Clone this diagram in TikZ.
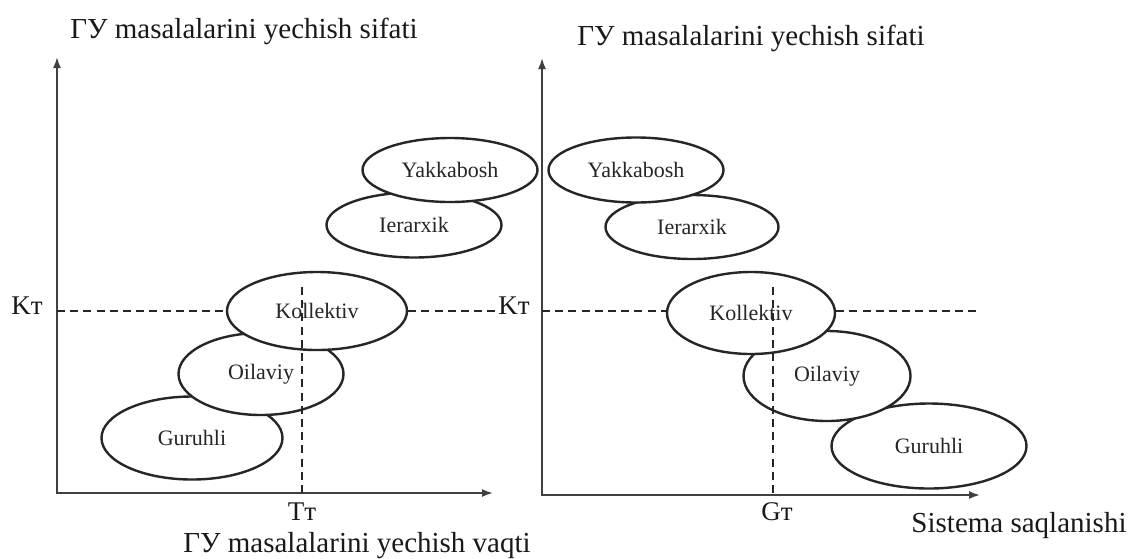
\documentclass[tikz,border=0pt]{standalone}
\usepackage{fontspec}
\setmainfont{Liberation Serif}
\usetikzlibrary{shapes.geometric,arrows.meta}
\begin{document}
\begin{tikzpicture}[x=0.5pt,y=-0.5pt,
  oval/.style={ellipse,draw=black!85,line width=1.2pt,fill=white,inner sep=0pt,
    text=black!85,font=\fontsize{11}{13}\selectfont},
  axis/.style={line width=0.9pt,draw=black!75,{Latex[length=5.5pt,width=4pt]}-{Latex[length=5.5pt,width=4pt]}},
  guide/.style={line width=1pt,draw=black!85,dash pattern=on 4pt off 2.6pt},
  lbl/.style={anchor=base,inner sep=0pt,text=black!90,font=\fontsize{14.5}{17}\selectfont},
  ticklbl/.style={anchor=base,inner sep=0pt,text=black!90,font=\fontsize{13.5}{16}\selectfont}]
\useasboundingbox (0,0) rectangle (1129,558);
\fill[white] (0,0) rectangle (1129,558);

% ---------- left chart: quality vs. time ----------
\coordinate (lO) at (57,493);
\coordinate (lYtip) at (57,57);
\coordinate (lXtip) at (493,493);
\draw[axis] (lYtip) -- (lO) -- (lXtip);

\node[lbl] (lTitle) at (244,38) {ГУ masalalarini yechish sifati};
\node[lbl] (lXtitle) at (357,552) {ГУ masalalarini yechish vaqti};

\node[oval,minimum width=87.5pt,minimum height=32.5pt] (lI) at (414,225) {Ierarxik};
\node[oval,minimum width=87.5pt,minimum height=32pt] (lY) at (450,170) {Yakkabosh};
\node[oval,minimum width=90.5pt,minimum height=41.5pt] (lG) at (192,438) {Guruhli};
\node[oval,minimum width=82.5pt,minimum height=41pt] (lOi) at (261,374) {Oilaviy};
\node[oval,minimum width=90pt,minimum height=39pt] (lK) at (317,311) {Kollektiv};

\node[ticklbl] (lKlab) at (27,314) {Kт};
\node[ticklbl] (rKlab) at (514,314) {Kт};
\node[ticklbl] (lTlab) at (302,520) {Tт};

\coordinate (lKax) at (57,311);
\coordinate (lTtop) at (302,287);
\coordinate (lTax) at (302,493);
\draw[guide] (lKax) -- (lK.west);
\draw[guide] (lK.east) -- (lK.east -| rKlab.west);
\draw[guide] (lTtop) -- (lTax);

% ---------- right chart: quality vs. system preservation ----------
\coordinate (rO) at (542,495);
\coordinate (rYtip) at (542,58);
\coordinate (rXtip) at (980,495);
\draw[axis] (rYtip) -- (rO) -- (rXtip);

\node[lbl] (rTitle) at (751,45) {ГУ masalalarini yechish sifati};
\node[lbl] (rXtitle) at (1019,532) {Sistema saqlanishi};

\node[oval,minimum width=86.5pt,minimum height=32pt] (rI) at (692,227) {Ierarxik};
\node[oval,minimum width=87.5pt,minimum height=32.5pt] (rY) at (636,170) {Yakkabosh};
\node[oval,minimum width=97.5pt,minimum height=42.5pt] (rG) at (929,446) {Guruhli};
\node[oval,minimum width=83.5pt,minimum height=45pt] (rOi) at (827,376) {Oilaviy};
\node[oval,minimum width=84pt,minimum height=41pt] (rK) at (751,313) {Kollektiv};

\node[ticklbl] (rGlab) at (777,520) {Gт};

\coordinate (rKax) at (542,311);
\coordinate (rKend) at (980,311);
\coordinate (rGtop) at (773,287);
\coordinate (rGax) at (773,495);
\draw[guide] (rKax) -- (rK.west |- rKax);
\draw[guide] (rK.east |- rKax) -- (rKend);
\draw[guide] (rGtop) -- (rGax);
\end{tikzpicture}
\end{document}
